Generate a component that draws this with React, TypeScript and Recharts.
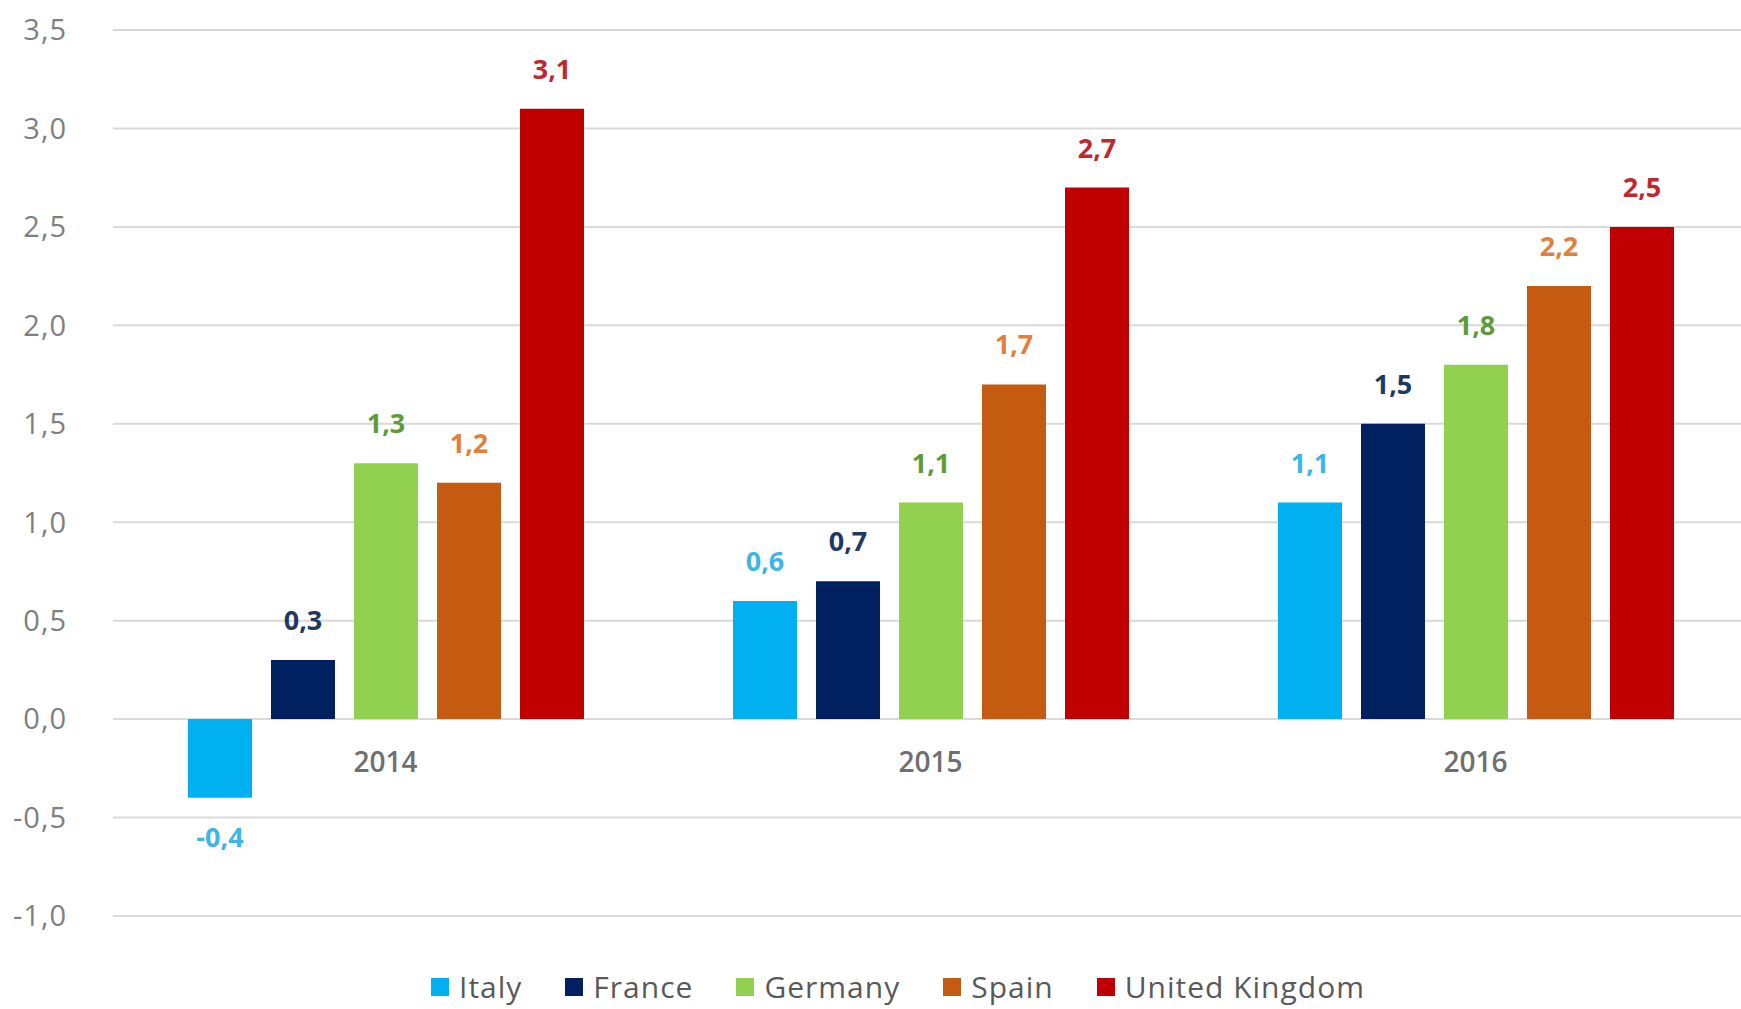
import React, { useEffect } from "react";
import {
  Bar,
  BarChart,
  CartesianGrid,
  LabelList,
  Legend,
  ReferenceDot,
  XAxis,
  YAxis,
} from "recharts";

const years = ["2014", "2015", "2016"];
const italy = [-0.4, 0.6, 1.1];
const france = [0.3, 0.7, 1.5];
const germany = [1.3, 1.1, 1.8];
const spain = [1.2, 1.7, 2.2];
const unitedKingdom = [3.1, 2.7, 2.5];
const yTicks = [-1, -0.5, 0, 0.5, 1, 1.5, 2, 2.5, 3, 3.5];

const data = years.map((year, i) => ({
  year,
  italy: italy[i],
  france: france[i],
  germany: germany[i],
  spain: spain[i],
  uk: unitedKingdom[i],
}));

const series = [
  { key: "italy", name: "Italy", fill: "#00B0F0", label: "#3DB5E6" },
  { key: "france", name: "France", fill: "#002060", label: "#1F3864" },
  { key: "germany", name: "Germany", fill: "#92D050", label: "#5E9A3A" },
  { key: "spain", name: "Spain", fill: "#C55A11", label: "#E0803A" },
  { key: "uk", name: "United Kingdom", fill: "#C00000", label: "#C0282D" },
];

const FONT = "'Open Sans', sans-serif";
const comma = (v: any) => Number(v).toFixed(1).replace(".", ",");

const LegendContent = () => (
  <div
    style={{
      display: "flex",
      justifyContent: "center",
      gap: 43,
      paddingLeft: 48,
      fontFamily: FONT,
      fontSize: 30,
      lineHeight: "32px",
      color: "#595959",
      letterSpacing: 1,
    }}
  >
    {series.map((s) => (
      <div key={s.key} style={{ display: "flex", alignItems: "center" }}>
        <span
          style={{
            width: 18,
            height: 18,
            background: s.fill,
            marginRight: 10,
            display: "inline-block",
          }}
        />
        <span>{s.name}</span>
      </div>
    ))}
  </div>
);

export default function App() {
  useEffect(() => {
    document.body.style.margin = "0";
  }, []);

  return (
    <div style={{ background: "#fff", width: 1741, height: 1009, overflow: "hidden" }}>
      <BarChart
        width={1741}
        height={1009}
        data={data}
        margin={{ top: 30, right: -7, left: 0, bottom: 61 }}
        barGap={19}
      >
        <CartesianGrid vertical={false} stroke="#D9D9D9" strokeWidth={2} />
        <XAxis dataKey="year" hide />
        <YAxis
          width={113}
          domain={[-1, 3.5]}
          ticks={yTicks}
          interval={0}
          axisLine={false}
          tickLine={false}
          tickSize={0}
          tickMargin={46}
          tickFormatter={comma}
          tick={{
            fill: "#7F7F7F",
            fontSize: 29,
            fontFamily: FONT,
            letterSpacing: 1,
          }}
        />
        <Legend
          verticalAlign="bottom"
          content={<LegendContent />}
          wrapperStyle={{ top: 971, height: 32 }}
        />
        {series.map((s) => (
          <Bar
            key={s.key}
            dataKey={s.key}
            name={s.name}
            fill={s.fill}
            barSize={64}
            isAnimationActive={false}
          >
            <LabelList
              dataKey={s.key}
              position="top"
              offset={30}
              formatter={comma}
              fill={s.label}
              fontSize={27}
              fontWeight={700}
              fontFamily={FONT}
            />
          </Bar>
        ))}
        {years.map((year) => (
          <ReferenceDot
            key={year}
            x={year}
            y={0}
            r={0}
            fill="none"
            stroke="none"
            label={{
              value: year,
              position: "bottom",
              offset: 33,
              fill: "#6F6F6F",
              fontSize: 28,
              fontWeight: 600,
              fontFamily: FONT,
            }}
          />
        ))}
      </BarChart>
    </div>
  );
}
